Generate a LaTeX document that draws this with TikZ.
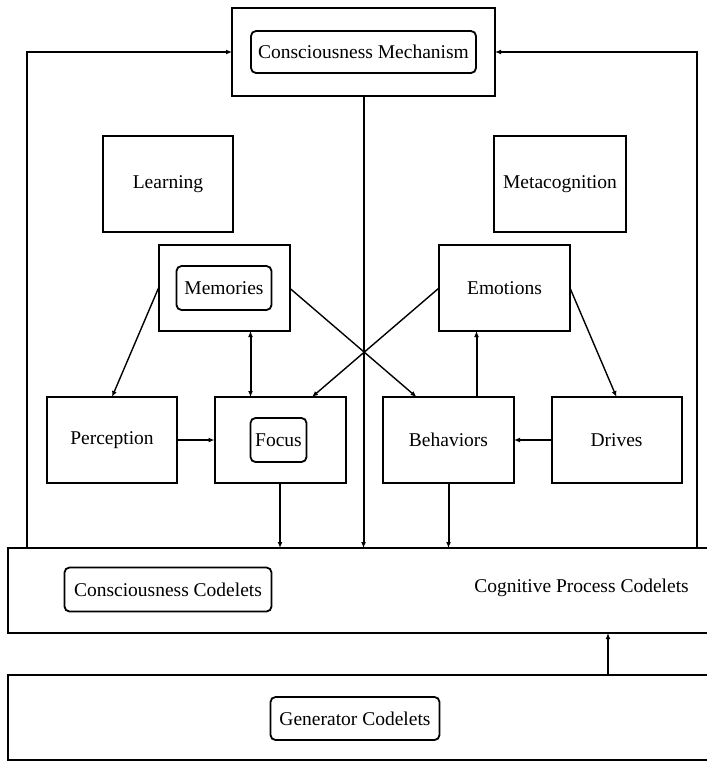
\documentclass[tikz,border=0pt]{standalone}
\usepackage{fontspec}
\setmainfont{Liberation Serif}
\usetikzlibrary{calc}
\usetikzlibrary{positioning}
\usetikzlibrary{arrows.meta}
\tikzset{node distance=37.5pt, % gap between the boxes of one row
  every node/.style={align=center, font=\fontsize{19.5}{22}\selectfont},
         module/.style={ % plain box of one module
           draw, line width=2pt,
           minimum width=131pt, minimum height=86pt,
           inner sep=0pt, outer sep=0pt},
         slot/.style={   % rounded box inside a module
           draw, line width=1.8pt, rounded corners=5pt,
           inner sep=0pt, outer sep=0pt},
         band/.style={   % wide boxes at the bottom
           draw, line width=2pt, minimum width=701pt,
           inner sep=0pt, outer sep=0pt},
         link/.style={line width=2pt, -{Latex[length=6pt,width=5pt]}},
         both/.style={line width=2pt, {Latex[length=6pt,width=5pt]}-{Latex[length=6pt,width=5pt]}},
         cross/.style={line width=1.4pt, -{Latex[length=6pt,width=5pt]}}}

\begin{document}
\begin{tikzpicture}[x=1pt, y=-1pt]
  \useasboundingbox (0,0) rectangle (707,761);

  \node [module, minimum width=263pt, minimum height=88pt] (mech) at (363.5,52) {};
  \node [slot, minimum width=225pt, minimum height=42pt] (mechin) at (mech) {Consciousness Mechanism};

  \node [module, minimum width=130pt, minimum height=96pt] (learn) at (168,184) {Learning};
  \node [module, minimum width=132pt, minimum height=96pt] (meta) at (560,184) {Metacognition};

  \node [module] (mem) at (224,288) {};
  \node [slot, minimum width=95pt, minimum height=44pt] (memin) at (mem) {Memories};
  \node [module] (emo) at (504.5,288) {Emotions};

  \node [module, minimum width=130pt] (percep) at (112,440) {Perception};
  \node [module, right=of percep] (focus) {};
  \node [slot, minimum width=56pt, minimum height=44pt] (focusin) at ([xshift=-1.5pt]focus.center) {Focus};
  \node [module, right=of focus] (behav) {Behaviors};
  \node [module, minimum width=130pt, right=of behav] (drives) {Drives};

  \node [band, minimum height=85pt] (codelets) at (358.5,590.5) {};
  \node [slot, minimum width=207pt, minimum height=44pt] (conscod) at (168,589.5) {Consciousness Codelets};
  \node (cogproc) at (581.5,588) {Cognitive Process Codelets};

  \node [band, minimum height=85pt] (gen) at (358.5,717.5) {};
  \node [slot, minimum width=169pt, minimum height=43pt] (gencod) at (355,718.5) {Generator Codelets};

  % feedback into the mechanism
  \draw [link] ([xshift=19pt]codelets.north west) |- (mech.west);
  \draw [link] ([xshift=-12pt]codelets.north east) |- (mech.east);
  \draw [link] (mech.south) -- (mech.south |- codelets.north);

  \draw [cross] (mem.west) -- (percep.north);
  \draw [cross] (mem.east) -- ([xshift=-32pt]behav.north);
  \draw [cross] (emo.west) -- ([xshift=32pt]focus.north);
  \draw [cross] (emo.east) -- (drives.north);

  \draw [both] (mem.south -| focusin.west) -- (focus.north -| focusin.west);
  \coordinate (be) at ($(behav.north)!.5!(emo.south)$);
  \draw [link] (behav.north -| be) -- (emo.south -| be);
  \draw [link] (percep.east) -- (focus.west);
  \draw [link] (drives.west) -- (behav.east);

  \draw [link] (focus.south) -- (focus.south |- codelets.north);
  \draw [link] (behav.south) -- (behav.south |- codelets.north);
  \draw [link] ([xshift=249.5pt]gen.north) -- ([xshift=249.5pt]gen.north |- codelets.south);
\end{tikzpicture}
\end{document}
